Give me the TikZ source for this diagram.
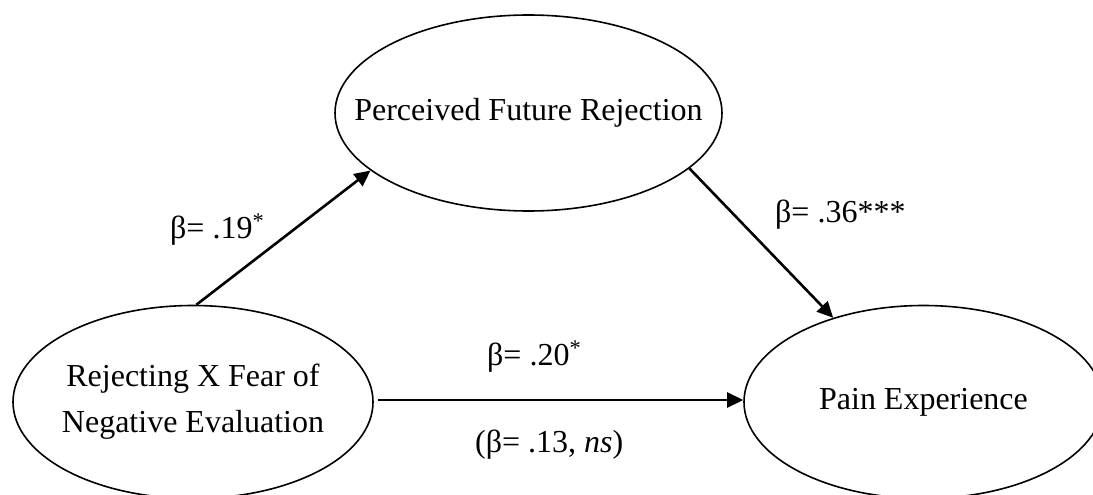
\documentclass[tikz,border=0pt]{standalone}
\usepackage{fontspec}
\setmainfont{Liberation Serif}
\usetikzlibrary{shapes.geometric,arrows.meta}
\newcommand{\zw}[1]{\makebox[0pt][c]{#1}}
\begin{document}
\begin{tikzpicture}[x=1pt,y=-1pt,
  var/.style={draw, ellipse, line width=1.6pt, inner sep=0pt, align=center,
    font=\fontsize{32}{46}\selectfont},
  path/.style={line width=2.6pt, -{Triangle[length=16pt,width=15pt]}},
  lbl/.style={font=\fontsize{32}{38}\selectfont, inner sep=0pt}]
\useasboundingbox (0,0) rectangle (1093,495);
\clip (0,0) rectangle (1093,495);
\node[var, minimum width=387pt, minimum height=196pt] (pfr) at (528.5,113) {\zw{Perceived Future Rejection}};
\node[var, minimum width=360pt, minimum height=193pt] (rx) at (193,402) {\zw{Rejecting X Fear of}\\\zw{Negative Evaluation}};
\node[var, minimum width=359pt, minimum height=193pt] (pain) at (923.5,402) {\zw{Pain Experience}};
\draw[path] (rx.88) -- (pfr.200);
\draw[path] (pfr.341) -- (pain.137);
\draw[path, shorten <=4pt] (rx.east |- 0,400) -- (pain.west |- 0,400);
\node[lbl, anchor=base west] (b1) at (170,238) {β= .19\textsuperscript{*}};
\node[lbl, anchor=base west] (b2) at (775,222) {β= .36***};
\node[lbl, anchor=base west] (b3) at (487,365) {β= .20\textsuperscript{*}};
\node[lbl, anchor=base west] (b4) at (475,452) {(β= .13, \textit{ns})};
\end{tikzpicture}
\end{document}
